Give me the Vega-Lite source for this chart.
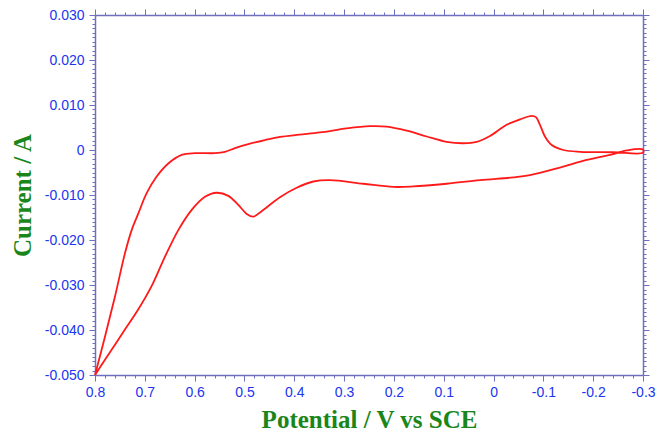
{
  "$schema": "https://vega.github.io/schema/vega-lite/v6.json",
  "width": 548,
  "height": 360,
  "autosize": "none",
  "padding": {"left": 95, "top": 15, "right": 24, "bottom": 62},
  "background": "white",
  "config": {
    "view": {"stroke": null},
    "axis": {
      "grid": false,
      "labelFlush": false,
      "domainColor": "#6f6fbf",
      "domainWidth": 1.5,
      "tickColor": "#6f6fbf",
      "tickWidth": 1,
      "labelColor": "#2035f0",
      "labelFont": "Liberation Sans",
      "labelFontSize": 14,
      "titleColor": "#1a861a",
      "titleFont": "Liberation Serif",
      "titleFontSize": 25,
      "titleFontWeight": "bold"
    }
  },
  "data": {
    "values": [
      {"i": 1, "p": 0.8, "c": -0.05},
      {"i": 2, "p": 0.78, "c": -0.0415},
      {"i": 3, "p": 0.76, "c": -0.0326},
      {"i": 4, "p": 0.74, "c": -0.023},
      {"i": 5, "p": 0.7264, "c": -0.0178},
      {"i": 6, "p": 0.713, "c": -0.0141},
      {"i": 7, "p": 0.6963, "c": -0.0096},
      {"i": 8, "p": 0.6762, "c": -0.0059},
      {"i": 9, "p": 0.6529, "c": -0.003},
      {"i": 10, "p": 0.626, "c": -0.0011},
      {"i": 11, "p": 0.5993, "c": -0.0007},
      {"i": 12, "p": 0.5591, "c": -0.0007},
      {"i": 13, "p": 0.5391, "c": -0.0004},
      {"i": 14, "p": 0.519, "c": 0.0004},
      {"i": 15, "p": 0.4923, "c": 0.0013},
      {"i": 16, "p": 0.4588, "c": 0.0022},
      {"i": 17, "p": 0.4287, "c": 0.0029},
      {"i": 18, "p": 0.39, "c": 0.0034},
      {"i": 19, "p": 0.3484, "c": 0.0039},
      {"i": 20, "p": 0.2948, "c": 0.0048},
      {"i": 21, "p": 0.248, "c": 0.0053},
      {"i": 22, "p": 0.2145, "c": 0.0052},
      {"i": 23, "p": 0.1744, "c": 0.0043},
      {"i": 24, "p": 0.1342, "c": 0.003},
      {"i": 25, "p": 0.0941, "c": 0.0018},
      {"i": 26, "p": 0.0606, "c": 0.0015},
      {"i": 27, "p": 0.0339, "c": 0.0018},
      {"i": 28, "p": 0.0072, "c": 0.0031},
      {"i": 29, "p": -0.0263, "c": 0.0056},
      {"i": 30, "p": -0.0531, "c": 0.0068},
      {"i": 31, "p": -0.0765, "c": 0.0076},
      {"i": 32, "p": -0.0852, "c": 0.0073},
      {"i": 33, "p": -0.0932, "c": 0.0056},
      {"i": 34, "p": -0.1032, "c": 0.003},
      {"i": 35, "p": -0.1167, "c": 0.0011},
      {"i": 36, "p": -0.14, "c": 0.0},
      {"i": 37, "p": -0.1735, "c": -0.0004},
      {"i": 38, "p": -0.2403, "c": -0.0005},
      {"i": 39, "p": -0.3, "c": -0.0006},
      {"i": 40, "p": -0.3, "c": 0.0001},
      {"i": 41, "p": -0.2672, "c": -0.0001},
      {"i": 42, "p": -0.2403, "c": -0.0009},
      {"i": 43, "p": -0.1869, "c": -0.0022},
      {"i": 44, "p": -0.1334, "c": -0.0039},
      {"i": 45, "p": -0.0731, "c": -0.0056},
      {"i": 46, "p": -0.0396, "c": -0.0061},
      {"i": 47, "p": 0.0272, "c": -0.0067},
      {"i": 48, "p": 0.0941, "c": -0.0075},
      {"i": 49, "p": 0.161, "c": -0.0081},
      {"i": 50, "p": 0.2012, "c": -0.0082},
      {"i": 51, "p": 0.2614, "c": -0.0075},
      {"i": 52, "p": 0.3283, "c": -0.0067},
      {"i": 53, "p": 0.3618, "c": -0.007},
      {"i": 54, "p": 0.3952, "c": -0.0084},
      {"i": 55, "p": 0.4287, "c": -0.0105},
      {"i": 56, "p": 0.4655, "c": -0.0136},
      {"i": 57, "p": 0.4822, "c": -0.0148},
      {"i": 58, "p": 0.4955, "c": -0.0142},
      {"i": 59, "p": 0.5124, "c": -0.0122},
      {"i": 60, "p": 0.5324, "c": -0.0102},
      {"i": 61, "p": 0.5557, "c": -0.0095},
      {"i": 62, "p": 0.5792, "c": -0.0104},
      {"i": 63, "p": 0.6059, "c": -0.0133},
      {"i": 64, "p": 0.6328, "c": -0.0178},
      {"i": 65, "p": 0.6595, "c": -0.0237},
      {"i": 66, "p": 0.6862, "c": -0.0302},
      {"i": 67, "p": 0.713, "c": -0.0354},
      {"i": 68, "p": 0.74, "c": -0.0399},
      {"i": 69, "p": 0.76, "c": -0.0433},
      {"i": 70, "p": 0.78, "c": -0.0466},
      {"i": 71, "p": 0.8, "c": -0.05}
    ]
  },
  "resolve": {"axis": {"x": "independent", "y": "independent"}},
  "layer": [
    {
      "mark": {"type": "line", "strokeOpacity": 0},
      "encoding": {
        "order": {"field": "i", "type": "quantitative"},
        "x": {"field": "p", "type": "quantitative",
          "scale": {"domain": [-0.3, 0.8], "reverse": true, "nice": false, "zero": false},
          "axis": {"orient": "bottom", "title": null, "labels": false, "domain": false, "tickSize": 3,
            "values": [0.8,0.78,0.76,0.74,0.72,0.7,0.68,0.66,0.64,0.62,0.6,0.58,0.56,0.54,0.52,0.5,0.48,0.46,0.44,0.42,0.4,0.38,0.36,0.34,0.32,0.3,0.28,0.26,0.24,0.22,0.2,0.18,0.16,0.14,0.12,0.1,0.08,0.06,0.04,0.02,0,-0.02,-0.04,-0.06,-0.08,-0.1,-0.12,-0.14,-0.16,-0.18,-0.2,-0.22,-0.24,-0.26,-0.28,-0.3]}},
        "y": {"field": "c", "type": "quantitative",
          "scale": {"domain": [-0.05, 0.03], "nice": false, "zero": false},
          "axis": {"orient": "left", "title": null, "labels": false, "domain": false, "tickSize": 3,
            "values": [-0.05,-0.049,-0.048,-0.047,-0.046,-0.045,-0.044,-0.043,-0.042,-0.041,-0.04,-0.039,-0.038,-0.037,-0.036,-0.035,-0.034,-0.033,-0.032,-0.031,-0.03,-0.029,-0.028,-0.027,-0.026,-0.025,-0.024,-0.023,-0.022,-0.021,-0.02,-0.019,-0.018,-0.017,-0.016,-0.015,-0.014,-0.013,-0.012,-0.011,-0.01,-0.009,-0.008,-0.007,-0.006,-0.005,-0.004,-0.003,-0.002,-0.001,0,0.001,0.002,0.003,0.004,0.005,0.006,0.007,0.008,0.009,0.01,0.011,0.012,0.013,0.014,0.015,0.016,0.017,0.018,0.019,0.02,0.021,0.022,0.023,0.024,0.025,0.026,0.027,0.028,0.029,0.03]}}
      }
    },
    {
      "mark": {"type": "line", "strokeOpacity": 0},
      "encoding": {
        "order": {"field": "i", "type": "quantitative"},
        "x": {"field": "p", "type": "quantitative",
          "axis": {"orient": "top", "title": null, "labels": false, "domain": true, "tickSize": 3,
            "values": [0.8,0.78,0.76,0.74,0.72,0.7,0.68,0.66,0.64,0.62,0.6,0.58,0.56,0.54,0.52,0.5,0.48,0.46,0.44,0.42,0.4,0.38,0.36,0.34,0.32,0.3,0.28,0.26,0.24,0.22,0.2,0.18,0.16,0.14,0.12,0.1,0.08,0.06,0.04,0.02,0,-0.02,-0.04,-0.06,-0.08,-0.1,-0.12,-0.14,-0.16,-0.18,-0.2,-0.22,-0.24,-0.26,-0.28,-0.3]}},
        "y": {"field": "c", "type": "quantitative",
          "axis": {"orient": "right", "title": null, "labels": false, "domain": true, "tickSize": 3,
            "values": [-0.05,-0.049,-0.048,-0.047,-0.046,-0.045,-0.044,-0.043,-0.042,-0.041,-0.04,-0.039,-0.038,-0.037,-0.036,-0.035,-0.034,-0.033,-0.032,-0.031,-0.03,-0.029,-0.028,-0.027,-0.026,-0.025,-0.024,-0.023,-0.022,-0.021,-0.02,-0.019,-0.018,-0.017,-0.016,-0.015,-0.014,-0.013,-0.012,-0.011,-0.01,-0.009,-0.008,-0.007,-0.006,-0.005,-0.004,-0.003,-0.002,-0.001,0,0.001,0.002,0.003,0.004,0.005,0.006,0.007,0.008,0.009,0.01,0.011,0.012,0.013,0.014,0.015,0.016,0.017,0.018,0.019,0.02,0.021,0.022,0.023,0.024,0.025,0.026,0.027,0.028,0.029,0.03]}}
      }
    },
    {
      "mark": {"type": "line", "strokeOpacity": 0},
      "encoding": {
        "order": {"field": "i", "type": "quantitative"},
        "x": {"field": "p", "type": "quantitative",
          "axis": {"orient": "top", "title": null, "labels": false, "domain": false, "tickSize": 6,
            "values": [0.8,0.7,0.6,0.5,0.4,0.3,0.2,0.1,0,-0.1,-0.2,-0.3]}},
        "y": {"field": "c", "type": "quantitative",
          "axis": {"orient": "right", "title": null, "labels": false, "domain": false, "tickSize": 6,
            "values": [-0.05,-0.04,-0.03,-0.02,-0.01,0,0.01,0.02,0.03]}}
      }
    },
    {
      "mark": {"type": "line", "color": "#ff1a1a", "strokeWidth": 1.8, "interpolate": "catmull-rom"},
      "encoding": {
        "order": {"field": "i", "type": "quantitative"},
        "x": {"field": "p", "type": "quantitative",
          "axis": {"orient": "bottom", "title": "Potential / V vs SCE", "tickSize": 6, "labelPadding": 4, "titlePadding": 8,
            "values": [0.8,0.7,0.6,0.5,0.4,0.3,0.2,0.1,0,-0.1,-0.2,-0.3],
            "labelExpr": "datum.value == 0 ? '0' : (datum.value < 0 ? '-' + format(-datum.value, '.1f') : format(datum.value, '.1f'))"}},
        "y": {"field": "c", "type": "quantitative",
          "axis": {"orient": "left", "title": "Current / A", "tickSize": 6, "labelPadding": 5, "titlePadding": 9,
            "values": [-0.05,-0.04,-0.03,-0.02,-0.01,0,0.01,0.02,0.03],
            "labelExpr": "datum.value == 0 ? '0' : (datum.value < 0 ? '-' + format(-datum.value, '.3f') : format(datum.value, '.3f'))"}}
      }
    }
  ]
}
